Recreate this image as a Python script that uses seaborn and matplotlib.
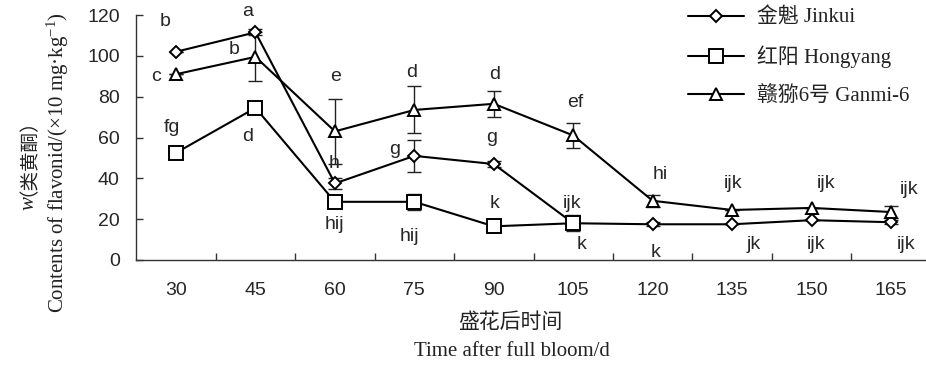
import numpy as np
import pandas as pd
import matplotlib
matplotlib.use("Agg")
import matplotlib.pyplot as plt
import seaborn as sns

# ---------------- data ----------------
days = ["30", "45", "60", "75", "90", "105", "120", "135", "150", "165"]
jinkui = [102, 111.5, 37.5, 51, 47, 18, 17.5, 17.5, 19.5, 18.5]
jinkui_err = [0, 1.5, 2.5, 8, 1.5, 2, 1, 0, 0, 1]
hongyang = [52.5, 74.5, 28.5, 28.5, 16.5, 18, np.nan, np.nan, np.nan, np.nan]
hongyang_err = [0, 2.5, 0, 4, 0, 4, 0, 0, 0, 0]
ganmi = [91, 99.5, 63, 73.5, 76.5, 61, 29, 24.5, 25.5, 23.5]
ganmi_err = [0, 12, 16, 11.5, 6.5, 6.3, 3, 0, 0, 3]

jinkui_letters = ["b", "a", "h", "g", "g", "k", "k", "jk", "ijk", "ijk"]
hongyang_letters = ["fg", "d", "hij", "hij", "k", "ijk"]
ganmi_letters = ["c", "b", "e", "d", "d", "ef", "hi", "ijk", "ijk", "ijk"]

series_names = ["金魁 Jinkui", "红阳 Hongyang", "赣猕6号 Ganmi-6"]

# label placement (x in category index units, y in data units)
jinkui_lpos = [(-0.14, 116.7), (0.90, 121.6), (1.99, 47.5), (2.75, 53.9), (3.97, 59.8),
               (5.11, 7.4), (6.04, 3.9), (7.27, 7.4), (8.06, 7.4), (9.19, 7.4)]
hongyang_lpos = [(-0.05, 64.7), (0.90, 60.3), (1.99, 17.2), (2.94, 11.3), (4.01, 27.9),
                 (4.99, 27.9)]
ganmi_lpos = [(-0.25, 89.7), (0.73, 102.9), (2.01, 89.7), (2.97, 91.7), (4.01, 90.7),
              (5.03, 77.0), (6.09, 41.7), (7.01, 37.7), (8.18, 37.7), (9.23, 34.3)]

# ---------------- style ----------------
sns.set_style("ticks")
plt.rcParams["font.family"] = ["Liberation Sans", "Noto Sans CJK SC"]
plt.rcParams["mathtext.fontset"] = "custom"
plt.rcParams["mathtext.rm"] = "Liberation Serif"
plt.rcParams["mathtext.it"] = "Liberation Serif:italic"

SERIF = ["Liberation Serif", "Noto Sans CJK SC"]
SERIF_SIZE = 15
TXT = "#222222"

fig = plt.figure(figsize=(9.26, 3.72), dpi=100)
ax = fig.add_axes([136.3 / 926, 1 - 260 / 372, (930.7 - 136.3) / 926, 245 / 372])

idx = np.arange(len(days))
df = pd.DataFrame({"idx": idx, "jk": jinkui, "hy": hongyang, "gm": ganmi})

specs = [
    ("jk", jinkui_err, "D", 6.3),
    ("hy", hongyang_err, "s", 9.6),
    ("gm", ganmi_err, "^", 9.0),
]
handles = []
for col, err, mk, ms in specs:
    sub = df[["idx", col]].dropna()
    e = np.array(err)[: len(sub)]
    ax.errorbar(sub["idx"], sub[col], yerr=e, fmt="none", ecolor="#222222",
                elinewidth=1.0, capsize=5, capthick=1.0, zorder=2)
    sns.lineplot(data=sub, x="idx", y=col, ax=ax, color="black", linewidth=1.5,
                 marker=mk, markersize=ms, markerfacecolor="white",
                 markeredgecolor="black", markeredgewidth=1.4, zorder=3,
                 legend=False, errorbar=None)
    handles.append(ax.lines[-1])

for letters, lpos in [(jinkui_letters, jinkui_lpos), (hongyang_letters, hongyang_lpos),
                      (ganmi_letters, ganmi_lpos)]:
    for t, (x, y) in zip(letters, lpos):
        ax.text(x, y, t, ha="center", va="center", fontsize=14,
                family="Liberation Sans", clip_on=False)

ax.set_xlim(-0.5, len(days) - 0.5)
ax.set_ylim(0, 120)
ax.set_yticks(np.arange(0, 121, 20))
ax.set_xticks(idx)
ax.set_xticklabels(days)
ax.set_xticks(np.arange(0.5, len(days) - 0.5, 1), minor=True)
ax.tick_params(axis="x", which="major", length=0, pad=16, labelsize=14)
ax.tick_params(axis="x", which="minor", direction="in", length=5, width=1, color="#333333")
ax.tick_params(axis="y", direction="in", length=5, width=1, pad=12, labelsize=14,
               color="#333333")
for s in ["top", "right"]:
    ax.spines[s].set_visible(False)
for s in ["left", "bottom"]:
    ax.spines[s].set_color("#333333")
    ax.spines[s].set_linewidth(1.0)
ax.set_xlabel("")
ax.set_ylabel("")

# axis titles
fig.text(29 / 926, 1 - 203 / 372, "w", rotation=90, ha="center", va="center",
         rotation_mode="anchor", fontsize=SERIF_SIZE, family="Liberation Serif",
         style="italic", color=TXT)
fig.text(18 / 926, 1 - 196 / 372, "（类黄酮）", rotation=90, ha="left", va="center",
         rotation_mode="anchor", fontsize=SERIF_SIZE - 1, family=SERIF, color=TXT)
fig.text(58 / 926, 1 - 163 / 372, "Contents of flavonid/(×10 mg·kg$^{-1}$)", rotation=90,
         ha="center", va="center", fontsize=SERIF_SIZE, family=SERIF, color=TXT)
fig.text(510 / 926, 1 - 323 / 372, "盛花后时间", ha="center", va="center",
         fontsize=SERIF_SIZE, family=SERIF, color=TXT)
fig.text(512 / 926, 1 - 352 / 372, "Time after full bloom/d", ha="center", va="center",
         fontsize=SERIF_SIZE, family=SERIF, color=TXT)

leg = fig.legend(handles, series_names, loc="upper left",
                 bbox_to_anchor=(688 / 926, 1 - 8 / 372), frameon=False,
                 prop={"family": SERIF, "size": SERIF_SIZE}, handlelength=2.7,
                 handletextpad=0.6, labelspacing=0.85, borderpad=0, borderaxespad=0)
for t in leg.get_texts():
    t.set_color(TXT)

fig.savefig("out.png", dpi=100)
